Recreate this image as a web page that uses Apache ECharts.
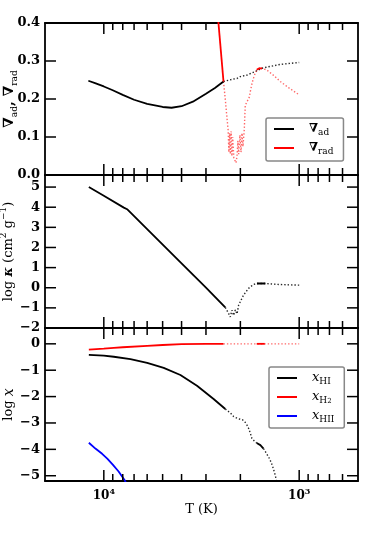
<!DOCTYPE html>
<html><head><meta charset="utf-8">
<script src="https://cdn.jsdelivr.net/npm/echarts@6/dist/echarts.min.js"></script>
<style>html,body{margin:0;padding:0;background:#fff}#c{width:374px;height:534px}</style>
</head><body><div id="c"></div>
<script>
// ---------- axis ranges / ticks ----------
const Tmin = 500, Tmax = 20000;
const xTicksMajor = [1000, 10000];
const xTicksMinor = [600, 700, 800, 900, 2000, 3000, 4000, 5000, 6000, 7000, 8000, 9000];
const yTicksTop = [0, 0.1, 0.2, 0.3, 0.4];
const yTicksMid = [-2, -1, 0, 1, 2, 3, 4, 5];
const yTicksBot = [-5, -4, -3, -2, -1, 0];

// ---------- top panel: nabla_ad, nabla_rad ----------
const T_adSolid = [12000, 11000, 10000, 9000, 8000, 7000, 6000, 5000, 4500, 4000, 3500, 3000, 2700, 2440];
const adSolid   = [0.248, 0.241, 0.233, 0.223, 0.211, 0.198, 0.187, 0.179, 0.177, 0.181, 0.193, 0.214, 0.229, 0.246];
const T_adDotted = [2440, 2200, 2080, 2000, 1850, 1700, 1550, 1400, 1250, 1100, 1000];
const adDotted   = [0.246, 0.252, 0.254, 0.259, 0.263, 0.271, 0.281, 0.286, 0.291, 0.294, 0.296];
const T_radSolid = [2650, 2440];
const radSolid   = [0.46, 0.246];
const T_radDotted = [2440, 2390, 2342, 2310, 2290, 2270, 2250, 2230, 2210, 2190, 2160, 2130, 2106, 2080, 2060, 2040, 2010, 1985, 1963, 1940, 1910, 1888, 1860, 1830, 1800, 1780, 1745, 1713, 1680, 1645, 1600, 1552, 1462, 1350, 1250, 1120, 1000];
const radDotted   = [0.246, 0.200, 0.150, 0.118, 0.060, 0.110, 0.055, 0.115, 0.050, 0.100, 0.045, 0.040, 0.032, 0.050, 0.090, 0.055, 0.105, 0.060, 0.110, 0.075, 0.120, 0.184, 0.190, 0.195, 0.205, 0.219, 0.240, 0.255, 0.268, 0.276, 0.281, 0.281, 0.276, 0.262, 0.246, 0.228, 0.211];
const T_radBlob = [1650, 1600, 1550];
const radBlob   = [0.277, 0.281, 0.280];

// ---------- middle panel: log kappa ----------
const T_kSolid = [11930, 10000, 7900, 7600, 6000, 4000, 3000, 2390];
const kSolid   = [5.0, 4.57, 3.98, 3.90, 2.91, 1.21, 0.0, -0.98];
const T_kDotted = [2390, 2342, 2297, 2253, 2208, 2166, 2123, 2080, 2042, 2002, 1928, 1816, 1713, 1645, 1550, 1480, 1400, 1250, 1100, 1000];
const kDotted   = [-0.98, -1.03, -1.28, -1.45, -1.12, -1.37, -1.10, -1.30, -0.87, -0.78, -0.37, -0.03, 0.16, 0.21, 0.21, 0.21, 0.19, 0.16, 0.14, 0.13];
const T_kBlob = [1645, 1550, 1490];
const kBlob   = [0.21, 0.21, 0.21];

// ---------- bottom panel: log x ----------
const T_h2Solid = [11930, 10000, 8890, 8000, 6000, 5000, 4000, 3000, 2440];
const h2Solid   = [-0.22, -0.185, -0.155, -0.13, -0.076, -0.045, -0.015, -0.004, 0.0];
const T_h2Dotted = [2440, 2000, 1600, 1300, 1000];
const h2Dotted   = [0.0, 0.0, 0.0, 0.0, 0.0];
const T_h2Blob = [1650, 1500];
const h2Blob   = [0.0, 0.0];
const T_hiSolid = [11930, 10000, 8890, 7306, 6000, 4936, 4055, 3335, 2742, 2388];
const hiSolid   = [-0.416, -0.45, -0.49, -0.58, -0.72, -0.91, -1.18, -1.59, -2.09, -2.47];
const T_hiDotted = [2388, 2250, 2163, 2080, 2004, 1950, 1893, 1850, 1816, 1780, 1747, 1700, 1650];
const hiDotted   = [-2.47, -2.62, -2.76, -2.82, -2.86, -2.88, -2.97, -3.08, -3.2, -3.38, -3.58, -3.68, -3.76];
const T_hiBlob = [1650, 1580, 1523];
const hiBlob   = [-3.76, -3.84, -3.97];
const T_hiDotted2 = [1523, 1480, 1430, 1390, 1353, 1330, 1315, 1300];
const hiDotted2   = [-3.97, -4.12, -4.31, -4.5, -4.75, -4.95, -5.1, -5.5];
const T_hiiSolid = [11930, 11000, 10200, 9600, 9000, 8400, 7850, 7600];
const hiiSolid   = [-3.75, -3.98, -4.17, -4.35, -4.58, -4.84, -5.15, -5.35];

// ---------- build ----------
const FONT = 'DejaVu Serif';
const chart = echarts.init(document.getElementById('c'));
const gridTops = [23, 175, 328];
const gridHeights = [152, 153, 153];
const grids = gridTops.map((t, i) => ({left: 45, right: 16, top: t, height: gridHeights[i], outerBoundsMode: 'none'}));
const frame = {show: true, onZero: false, lineStyle: {color: '#000', width: 1.8}};
const minus = (s) => String(s).replace('-', '\u2212');

const yCfg = [
  {min: 0, max: 0.4, ticks: yTicksTop, fmt: v => v.toFixed(1), name: '{n|\u2207}{s|ad}{n|, \u2207}{s|rad}'},
  {min: -2, max: 5.6, ticks: yTicksMid, fmt: v => minus(v), name: '{t|log }{k|\u03ba}{t| (cm}{p|2}{t| g}{p|\u22121}{t|)}'},
  {min: -5.2, max: 0.6, ticks: yTicksBot, fmt: v => minus(v), name: '{t|log }{i|x}'}
];

const xAxes = [];
[0, 1, 2].forEach(g => {
  const base = {type: 'log', gridIndex: g, min: Tmin, max: Tmax, inverse: true, offset: 0,
    splitLine: {show: false}, axisTick: {show: false}, axisLabel: {show: false}, axisLine: frame};
  const lbl = g === 2 ? {
    show: true, customValues: xTicksMajor, margin: 7,
    formatter: v => '{b|10}{s|' + Math.round(Math.log10(v)) + '}',
    rich: {b: {fontFamily: FONT, fontWeight: 'bold', fontSize: 12, color: '#000', lineHeight: 16},
           s: {fontFamily: FONT, fontWeight: 'bold', fontSize: 8, color: '#000', lineHeight: 9, verticalAlign: 'top'}}
  } : {show: false};
  xAxes.push(Object.assign({}, base, {position: 'bottom', axisLabel: lbl,
    name: g === 2 ? 'T (K)' : '', nameLocation: 'middle', nameGap: 20,
    nameTextStyle: {fontFamily: FONT, fontSize: 13, color: '#000'}}));
  xAxes.push(Object.assign({}, base, {position: 'top'}));
});

const nameRich = {
  n: {fontFamily: FONT, fontWeight: 'bold', fontSize: 14, color: '#000', lineHeight: 20},
  t: {fontFamily: FONT, fontSize: 13, color: '#000', lineHeight: 20},
  k: {fontFamily: FONT, fontWeight: 'bold', fontStyle: 'italic', fontSize: 13, color: '#000', lineHeight: 20},
  i: {fontFamily: FONT, fontStyle: 'italic', fontSize: 14, color: '#000', lineHeight: 20},
  s: {fontFamily: FONT, fontSize: 9, color: '#000', lineHeight: 12, verticalAlign: 'bottom'},
  p: {fontFamily: FONT, fontSize: 9, color: '#000', lineHeight: 12, verticalAlign: 'top'}
};
const yAxes = [];
yCfg.forEach((c, g) => {
  yAxes.push({type: 'value', gridIndex: g, min: c.min, max: c.max, position: 'left', offset: 0, axisLine: frame,
    axisTick: {show: false}, splitLine: {show: false},
    axisLabel: {customValues: c.ticks, formatter: c.fmt, color: '#000', fontFamily: FONT, fontWeight: 'bold', fontSize: 13, margin: 5},
    name: c.name, nameLocation: 'middle', nameRotate: 90, nameGap: 26, nameMoveOverlap: false,
    nameTextStyle: {rich: nameRich}});
  yAxes.push({type: 'value', gridIndex: g, min: c.min, max: c.max, position: 'right', offset: 0, axisLine: frame,
    axisTick: {show: false}, splitLine: {show: false}, axisLabel: {show: false}});
});

// tick marks drawn inside the frame; positions come from the axes' own scales,
// frame edges from the grid rectangle
const TICK_STYLE = {stroke: '#000', lineWidth: 1.5};
function xTickSeries(g) {
  const c = yCfg[g];
  const data = xTicksMajor.map(t => [t, c.min, 1]).concat(xTicksMinor.map(t => [t, c.min, 0]));
  return {type: 'custom', xAxisIndex: 2 * g, yAxisIndex: 2 * g, silent: true, z: 6, clip: false, data: data,
    renderItem: (params, api) => {
      const cs = params.coordSys;
      const len = api.value(2) ? 11 : 7;
      const x = api.coord([api.value(0), c.min])[0];
      const top = cs.y, bot = cs.y + cs.height;
      return {type: 'group', children: [
        {type: 'line', shape: {x1: x, y1: bot, x2: x, y2: bot - len}, style: TICK_STYLE},
        {type: 'line', shape: {x1: x, y1: top, x2: x, y2: top + len}, style: TICK_STYLE}]};
    }};
}
function yTickSeries(g) {
  const c = yCfg[g];
  return {type: 'custom', xAxisIndex: 2 * g, yAxisIndex: 2 * g, silent: true, z: 6, clip: false,
    data: c.ticks.map(v => [Tmax, v]),
    renderItem: (params, api) => {
      const cs = params.coordSys;
      const y = api.coord([Tmax, api.value(1)])[1];
      const l = cs.x, r = cs.x + cs.width;
      return {type: 'group', children: [
        {type: 'line', shape: {x1: l, y1: y, x2: l + 11, y2: y}, style: TICK_STYLE},
        {type: 'line', shape: {x1: r, y1: y, x2: r - 11, y2: y}, style: TICK_STYLE}]};
    }};
}

function ln(name, Ts, vs, g, color, dotted, z) {
  return {type: 'line', name, xAxisIndex: 2 * g, yAxisIndex: 2 * g, data: Ts.map((t, i) => [t, vs[i]]),
    symbol: 'none', clip: true, silent: true, color: color, z: z || 2,
    lineStyle: {color: color, width: dotted ? 1.4 : 1.8, type: dotted ? [1.4, 2] : 'solid',
      opacity: dotted ? (color === '#000000' ? 0.85 : 0.6) : 1}};
}
const K = '#000000', R = '#ff0000', B = '#0000ff';
const series = [
  ln('grad_ad', T_adSolid, adSolid, 0, K, false, 3),
  ln('grad_ad dotted', T_adDotted, adDotted, 0, K, true),
  ln('grad_rad', T_radSolid, radSolid, 0, R, false, 3),
  ln('grad_rad dotted', T_radDotted, radDotted, 0, R, true),
  ln('grad_rad blob', T_radBlob, radBlob, 0, R, false, 3),
  ln('kappa', T_kSolid, kSolid, 1, K, false, 3),
  ln('kappa dotted', T_kDotted, kDotted, 1, K, true),
  ln('kappa blob', T_kBlob, kBlob, 1, K, false, 3),
  ln('x_HI', T_hiSolid, hiSolid, 2, K, false, 3),
  ln('x_HI dotted', T_hiDotted, hiDotted, 2, K, true),
  ln('x_HI blob', T_hiBlob, hiBlob, 2, K, false, 3),
  ln('x_HI dotted2', T_hiDotted2, hiDotted2, 2, K, true),
  ln('x_H2', T_h2Solid, h2Solid, 2, R, false, 3),
  ln('x_H2 dotted', T_h2Dotted, h2Dotted, 2, R, true),
  ln('x_H2 blob', T_h2Blob, h2Blob, 2, R, false, 3),
  ln('x_HII', T_hiiSolid, hiiSolid, 2, B, false, 3),
  xTickSeries(0), xTickSeries(1), xTickSeries(2),
  yTickSeries(0), yTickSeries(1), yTickSeries(2)
];

const legLabels = {
  grad_ad: '{g| }{n|\u2207}{s|ad}',
  grad_rad: '{g| }{n|\u2207}{s|rad}',
  x_HI: '{g| }{i|x}{s|HI}',
  x_H2: '{g| }{i|x}{s|H}{ss|2}',
  x_HII: '{g| }{i|x}{s|HII}'
};
const legRich = {
  g: {width: 10, lineHeight: 16},
  n: {fontFamily: FONT, fontWeight: 'bold', fontSize: 12, color: '#000', lineHeight: 16},
  i: {fontFamily: FONT, fontStyle: 'italic', fontSize: 13, color: '#000', lineHeight: 16},
  s: {fontFamily: FONT, fontSize: 9, color: '#000', lineHeight: 11, verticalAlign: 'bottom'},
  ss: {fontFamily: FONT, fontSize: 7, color: '#000', lineHeight: 7, verticalAlign: 'bottom'}
};
const legBase = {orient: 'vertical', icon: 'rect', itemWidth: 20, itemHeight: 2, itemGap: 3,
  selectedMode: false, borderColor: '#888', borderWidth: 1.5, borderRadius: 2, backgroundColor: '#fff',
  formatter: n => legLabels[n], textStyle: {rich: legRich, lineHeight: 16}, z: 10};

chart.setOption({
  animation: false,
  grid: grids,
  xAxis: xAxes,
  yAxis: yAxes,
  legend: [
    Object.assign({}, legBase, {left: 266, top: 118, padding: [3, 10, 5, 8], data: ['grad_ad', 'grad_rad']}),
    Object.assign({}, legBase, {left: 269, top: 367, padding: [3, 10, 4, 8], data: ['x_HI', 'x_H2', 'x_HII']})
  ],
  series: series
});
</script></body></html>
